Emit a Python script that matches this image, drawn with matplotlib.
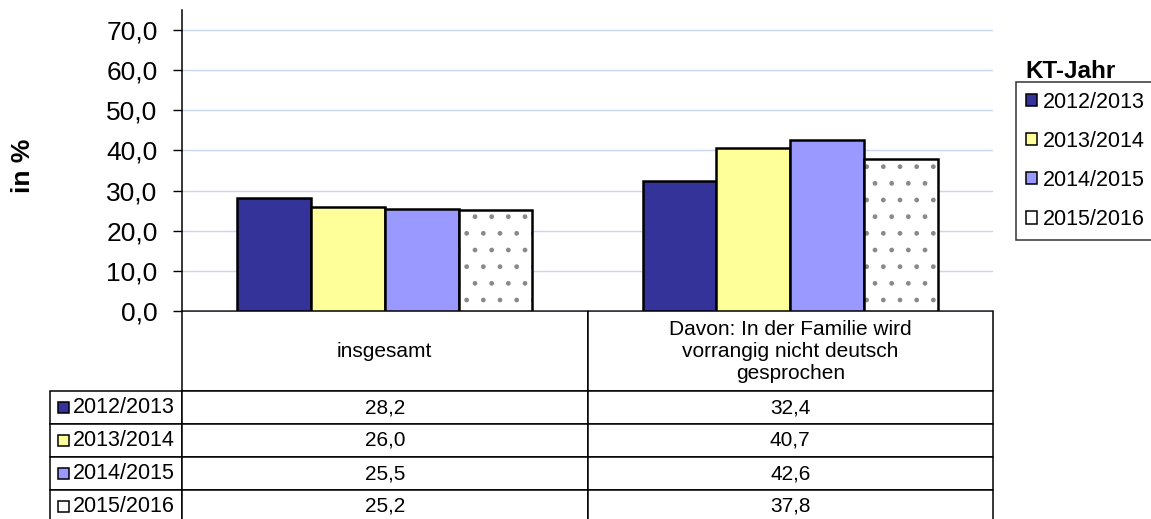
import numpy as np
import matplotlib
matplotlib.use("Agg")
import matplotlib.pyplot as plt
from matplotlib.patches import Rectangle, Patch
from matplotlib.table import Table
from matplotlib.ticker import FuncFormatter

plt.rcParams['font.family'] = ['Liberation Sans', 'DejaVu Sans']

# data
categories = ["insgesamt",
              "Davon: In der Familie wird\nvorrangig nicht deutsch\ngesprochen"]
years = ["2012/2013", "2013/2014", "2014/2015", "2015/2016"]
values = {
    "2012/2013": [28.2, 32.4],
    "2013/2014": [26.0, 40.7],
    "2014/2015": [25.5, 42.6],
    "2015/2016": [25.2, 37.8],
}
yticks = [0, 10, 20, 30, 40, 50, 60, 70]

colors = ["#333399", "#FFFF99", "#9999FF", "#FFFFFF"]
hatches = [None, None, None, "."]


def fmt(v):
    return f"{v:.1f}".replace(".", ",")


W, H = 1151, 519
fig = plt.figure(figsize=(W / 100, H / 100), dpi=100)

# axes box in pixels (left, top, right, bottom)
ax_l, ax_t, ax_r, ax_b = 182, 10, 993, 311
ax = fig.add_axes([ax_l / W, 1 - ax_b / H, (ax_r - ax_l) / W, (ax_b - ax_t) / H])

x = np.arange(len(categories))
bw = 0.182
for i, yr in enumerate(years):
    pos = x + (i - 1.5) * bw
    if hatches[i]:
        # dotted fill first, then the black outline on top
        ax.bar(pos, values[yr], bw, color=colors[i], edgecolor="#8a8a8a",
               hatch=hatches[i], linewidth=0, zorder=3)
        ax.bar(pos, values[yr], bw, fill=False, edgecolor="black",
               linewidth=1.8, zorder=4)
    else:
        ax.bar(pos, values[yr], bw, color=colors[i], edgecolor="black",
               linewidth=1.8, zorder=3)

ax.set_xlim(-0.5, len(categories) - 0.5)
ax.set_ylim(0, 75)
ax.set_yticks(yticks)
ax.yaxis.set_major_formatter(FuncFormatter(lambda v, p: fmt(v)))
ax.tick_params(axis="y", labelsize=19, length=6.5, width=1, pad=11, color="black")
ax.set_xticks([])
ax.grid(axis="y", color="#c8d6f0", linewidth=1, zorder=0)
for s in ["top", "right", "bottom"]:
    ax.spines[s].set_visible(False)
ax.spines["left"].set_linewidth(1.1)

fig.text(23 / W, 1 - 166 / H, "in %", rotation=90, ha="center", va="center",
         fontsize=19, fontweight="bold")

# data table under the chart, sizes in axes units
axw, axh = ax_r - ax_l, ax_b - ax_t
hdr_h, row_h = 80 / axh, 33 / axh
lab_w, col_w = 132 / axw, 0.5
tbl_h = hdr_h + row_h * len(years)
tbl = Table(ax, bbox=[-lab_w, -tbl_h, 1 + lab_w, tbl_h])
for j, cat in enumerate(categories):
    tbl.add_cell(0, j + 1, col_w, hdr_h, text=cat, loc="center")
for i, yr in enumerate(years):
    lab = tbl.add_cell(i + 1, 0, lab_w, row_h, text=yr, loc="left")
    lab.PAD = 23 / 132
    for j, v in enumerate(values[yr]):
        tbl.add_cell(i + 1, j + 1, col_w, row_h, text=fmt(v), loc="center")
tbl.auto_set_font_size(False)
tbl.set_fontsize(15)
for (r, c), cell in tbl.get_celld().items():
    cell.set_linewidth(1.1)
    cell.set_edgecolor("black")
    cell.set_clip_on(False)
    if c == 0:
        cell.get_text().set_fontsize(15.5)
ax.add_table(tbl)

# little colour keys in the row label cells
for i, yr in enumerate(years):
    cy = -(hdr_h + row_h * i + row_h / 2)
    ax.add_patch(Rectangle(((58 - ax_l) / axw, cy - 5.5 / axh), 11 / axw, 11 / axh,
                           transform=ax.transAxes, facecolor=colors[i],
                           edgecolor="black", linewidth=1.1, clip_on=False, zorder=5))

# legend
handles = [Patch(facecolor=colors[i], edgecolor="black", linewidth=1.1)
           for i in range(len(years))]
leg = fig.legend(handles, years, loc="upper left",
                 bbox_to_anchor=(1016 / W, 1 - 82 / H), borderaxespad=0,
                 fontsize=15.5, frameon=True, fancybox=False, edgecolor="black",
                 handlelength=0.52, handleheight=0.52, handletextpad=0.28,
                 borderpad=0.45, labelspacing=0.84)
leg.get_frame().set_linewidth(1.1)
fig.text(1025 / W, 1 - 78 / H, "KT-Jahr", ha="left", va="baseline",
         fontsize=17.5, fontweight="bold")

fig.savefig("out.png", dpi=100)
